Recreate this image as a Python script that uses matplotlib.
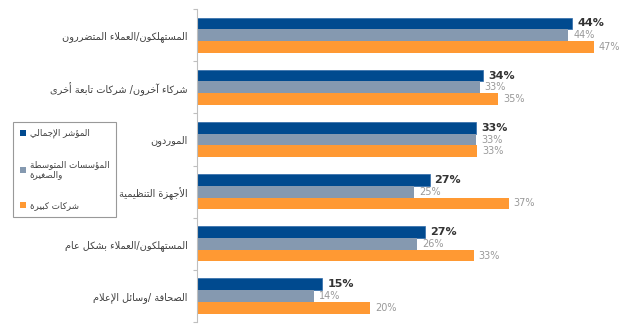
import matplotlib
matplotlib.use("Agg")
import matplotlib.pyplot as plt
import numpy as np
from matplotlib.patches import Patch

# categories, top to bottom
categories = [
    "المستهلكون/العملاء المتضررون",
    "شركاء آخرون/ شركات تابعة أخرى",
    "الموردون",
    "الأجهزة التنظيمية",
    "المستهلكون/العملاء بشكل عام",
    "الصحافة /وسائل الإعلام",
]
series_names = ["المؤشر الإجمالي", "المؤسسات المتوسطة\nوالصغيرة", "شركات كبيرة"]

# bar lengths (%), and the printed labels
overall = [44.1, 33.6, 32.8, 27.3, 26.8, 14.7]
sme = [43.6, 33.2, 32.8, 25.5, 25.8, 13.7]
large = [46.6, 35.4, 32.9, 36.6, 32.5, 20.3]
overall_labels = ["44%", "34%", "33%", "27%", "27%", "15%"]
sme_labels = ["44%", "33%", "33%", "25%", "26%", "14%"]
large_labels = ["47%", "35%", "33%", "37%", "33%", "20%"]

colors = ["#004a8f", "#8599b0", "#ff9933"]

# --- minimal Arabic shaping (presentation forms + RTL order) ---
FORMS = {
    'ء': (0xFE80, 1), 'آ': (0xFE81, 2), 'أ': (0xFE83, 2), 'ؤ': (0xFE85, 2),
    'إ': (0xFE87, 2), 'ئ': (0xFE89, 4), 'ا': (0xFE8D, 2), 'ب': (0xFE8F, 4),
    'ة': (0xFE93, 2), 'ت': (0xFE95, 4), 'ث': (0xFE99, 4), 'ج': (0xFE9D, 4),
    'ح': (0xFEA1, 4), 'خ': (0xFEA5, 4), 'د': (0xFEA9, 2), 'ذ': (0xFEAB, 2),
    'ر': (0xFEAD, 2), 'ز': (0xFEAF, 2), 'س': (0xFEB1, 4), 'ش': (0xFEB5, 4),
    'ص': (0xFEB9, 4), 'ض': (0xFEBD, 4), 'ط': (0xFEC1, 4), 'ظ': (0xFEC5, 4),
    'ع': (0xFEC9, 4), 'غ': (0xFECD, 4), 'ف': (0xFED1, 4), 'ق': (0xFED5, 4),
    'ك': (0xFED9, 4), 'ل': (0xFEDD, 4), 'م': (0xFEE1, 4), 'ن': (0xFEE5, 4),
    'ه': (0xFEE9, 4), 'و': (0xFEED, 2), 'ى': (0xFEEF, 2), 'ي': (0xFEF1, 4),
}
LAM_ALEF = {'آ': 0xFEF5, 'أ': 0xFEF7, 'إ': 0xFEF9, 'ا': 0xFEFB}


def shape_line(text):
    tokens = []
    i = 0
    while i < len(text):
        c = text[i]
        if c == 'ل' and i + 1 < len(text) and text[i + 1] in LAM_ALEF:
            tokens.append(("LA", LAM_ALEF[text[i + 1]]))
            i += 2
        else:
            tokens.append(("C", c))
            i += 1

    def nforms(t):
        if t[0] == "LA":
            return 2
        return FORMS.get(t[1], (0, 0))[1]

    out = []
    for k, t in enumerate(tokens):
        n = nforms(t)
        if n == 0:
            out.append(t[1])
            continue
        base = t[1] if t[0] == "LA" else FORMS[t[1]][0]
        prev_joins = k > 0 and nforms(tokens[k - 1]) == 4
        next_joins = k + 1 < len(tokens) and nforms(tokens[k + 1]) >= 2
        if n == 4 and prev_joins and next_joins:
            off = 3
        elif n == 4 and next_joins:
            off = 2
        elif n >= 2 and prev_joins:
            off = 1
        else:
            off = 0
        out.append(chr(base + off))
    return "".join(reversed(out))


def shape(text):
    return "\n".join(shape_line(line) for line in text.split("\n"))


plt.rcParams["font.family"] = ["DejaVu Sans"]

fig = plt.figure(figsize=(6.24, 3.25), dpi=100)
ax = fig.add_axes([0.3165, 0.009, 0.681, 0.963])

y = np.arange(len(categories))
h = 0.225
ax.barh(y - h, overall, height=h, color=colors[0], edgecolor="#2f6aa8", linewidth=0.5)
ax.barh(y, sme, height=h, color=colors[1], linewidth=0)
ax.barh(y + h, large, height=h, color=colors[2], linewidth=0)

for yi, v, lab in zip(y, overall, overall_labels):
    ax.text(v + 0.6, yi - h, lab, va="center", ha="left", fontsize=8,
            fontweight="bold", color="#333333")
for yi, v, lab in zip(y, sme, sme_labels):
    ax.text(v + 0.6, yi, lab, va="center", ha="left", fontsize=7, color="#999999")
for yi, v, lab in zip(y, large, large_labels):
    ax.text(v + 0.6, yi + h, lab, va="center", ha="left", fontsize=7, color="#999999")

ax.set_xlim(0, 50)
ax.set_ylim(len(categories) - 0.5, -0.5)
ax.set_yticks(y)
ax.set_yticklabels([shape(c) for c in categories], fontsize=7, color="#404040")
ax.tick_params(axis="y", which="major", length=0, pad=7)
ax.set_yticks(np.arange(len(categories) + 1) - 0.5, minor=True)
ax.tick_params(axis="y", which="minor", length=3, color="#bfbfbf", width=0.8)
ax.set_xticks([])
for s in ["top", "right", "bottom"]:
    ax.spines[s].set_visible(False)
ax.spines["left"].set_color("#bfbfbf")
ax.spines["left"].set_linewidth(0.8)

handles = [Patch(facecolor=c, edgecolor="none") for c in colors]
leg = fig.legend(handles, [shape(s) for s in series_names],
                 loc="upper left", bbox_to_anchor=(0.021, 0.625), borderaxespad=0,
                 fontsize=6.3, frameon=True, fancybox=False,
                 handlelength=0.7, handleheight=0.7, handletextpad=0.4,
                 labelspacing=2.5, borderpad=0.8, labelcolor="#404040")
leg.get_frame().set_edgecolor("#808080")
leg.get_frame().set_linewidth(0.8)

fig.savefig("out.png", dpi=100)
